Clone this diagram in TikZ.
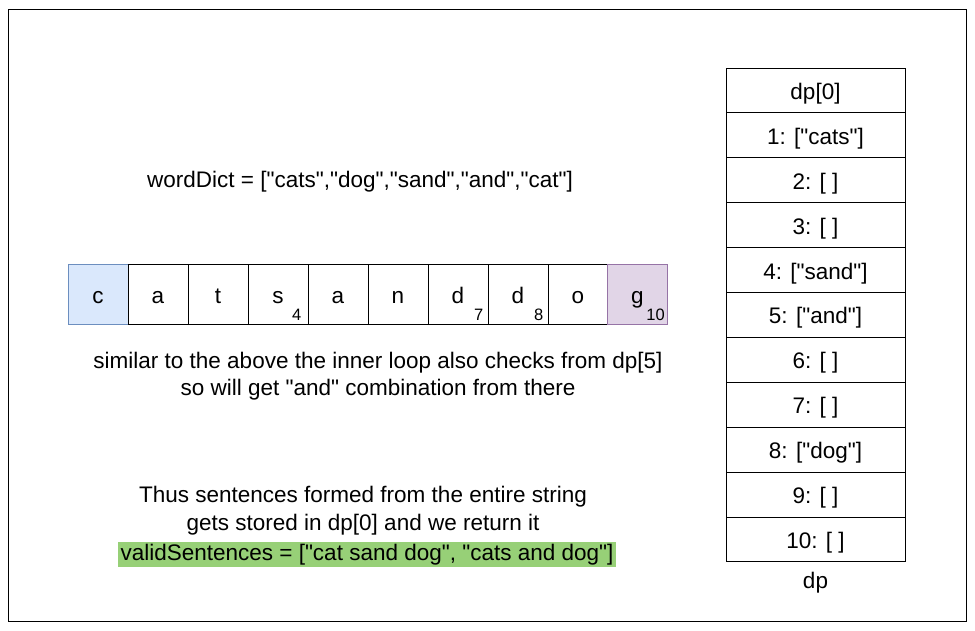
\documentclass[tikz,border=0pt]{standalone}
\usepackage{fontspec}
\setmainfont{Liberation Sans}[Ligatures=TeXOff]
\definecolor{bluefill}{HTML}{DAE8FC}
\definecolor{bluedraw}{HTML}{6C8EBF}
\definecolor{purpfill}{HTML}{E1D5E7}
\definecolor{purpdraw}{HTML}{9673A6}
\definecolor{greenfill}{HTML}{97D077}
\begin{document}
\begin{tikzpicture}[x=1pt,y=-1pt,
  every node/.style={font=\fontsize{22.5}{27.5}\selectfont, inner sep=0pt},
  cell/.style={draw, line width=0.9pt, minimum width=60pt, minimum height=60pt, text height=20pt, text depth=2pt},
  dprow/.style={draw, line width=0.9pt, minimum width=179pt, minimum height=44.9pt, text height=20pt, text depth=2pt},
  subnum/.style={font=\fontsize{16.5}{18}\selectfont, anchor=south east},
  plain/.style={align=center}]
\useasboundingbox (0,0) rectangle (975,630);
\node (frame) [draw, line width=0.9pt, minimum width=958pt, minimum height=612pt] at (487,315) {};

\node (wd) [plain] at (360,182) {wordDict = ["cats","dog","sand","and","cat"]};

\node (c0) [cell, fill=bluefill, draw=bluedraw] at (98,294) {c};
\node (c1) [cell] at (158,294) {a};
\node (c2) [cell] at (218,294) {t};
\node (c3) [cell] at (278,294) {s};
\node (c4) [cell] at (338,294) {a};
\node (c5) [cell] at (398,294) {n};
\node (c6) [cell] at (458,294) {d};
\node (c7) [cell] at (518,294) {d};
\node (c8) [cell] at (578,294) {o};
\node (c9) [cell, fill=purpfill, draw=purpdraw] at (637.5,294) {g};

\node (s3) [subnum] at ([xshift=-7pt,yshift=4pt]c3.south east) {4};
\node (s6) [subnum] at ([xshift=-5pt,yshift=4pt]c6.south east) {7};
\node (s7) [subnum] at ([xshift=-5pt,yshift=4pt]c7.south east) {8};
\node (s9) [subnum] at ([xshift=-3pt,yshift=4pt]c9.south east) {10};

\node (sim) [plain] at (378,376) {similar to the above the inner loop also checks from dp[5]\\so will get "and" combination from there};

\node (thus) [plain] at (363,510.5) {Thus sentences formed from the entire string\\gets stored in dp[0] and we return it};
\node (valid) [fill=greenfill, minimum width=498pt, minimum height=25pt] at (367,554.5) {validSentences = ["cat sand dog", "cats and dog"]};

\foreach \i/\t in {0/{dp[0]},1/{1: ["cats"]},2/{2: [ ]},3/{3: [ ]},4/{4: ["sand"]},5/{5: ["and"]},6/{6: [ ]},7/{7: [ ]},8/{8: ["dog"]},9/{9: [ ]},10/{10: [ ]}}{
  \node (dp\i) [dprow] at (815.5,{68+44.9*(\i+0.5)}) {\t};
}
\node (dplabel) at (815.5,583) {dp};
\end{tikzpicture}
\end{document}
